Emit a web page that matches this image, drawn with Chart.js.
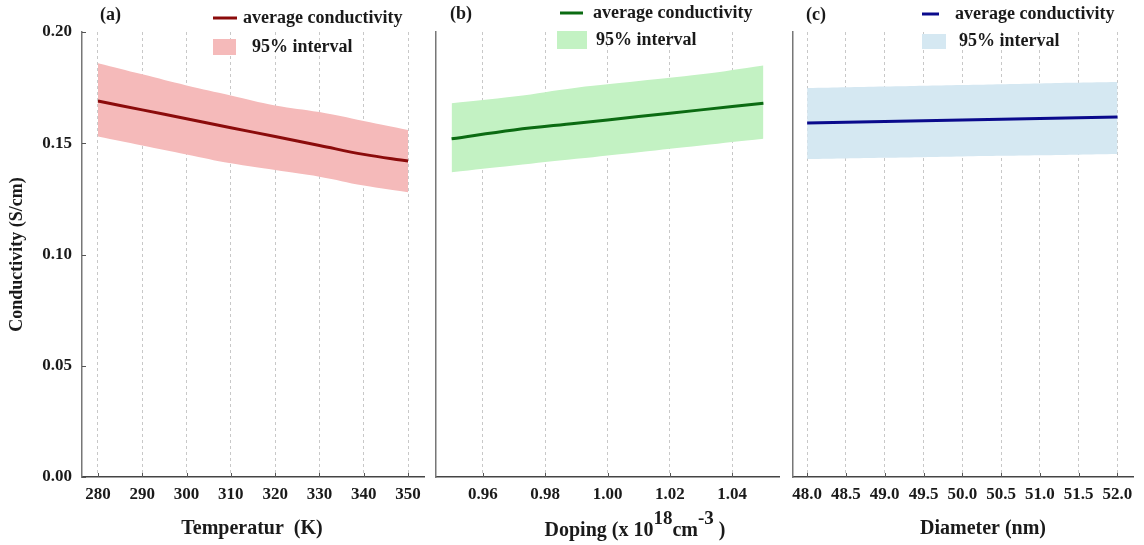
<!DOCTYPE html>
<html>
<head>
<meta charset="utf-8">
<script src="https://cdn.jsdelivr.net/npm/chart.js@4.4.0/dist/chart.umd.min.js"></script>
<style>
  body { margin: 0; background: #fff; }
  #wrap { position: relative; width: 1144px; height: 545px; }
  .panel { position: absolute; top: 0; height: 545px; }
</style>
</head>
<body>
<div id="wrap">
  <div class="panel" style="left:0;width:430px"><canvas id="chartA"></canvas></div>
  <div class="panel" style="left:430px;width:355px"><canvas id="chartB"></canvas></div>
  <div class="panel" style="left:785px;width:359px"><canvas id="chartC"></canvas></div>
</div>
<script>
// (a) temperature
const tempX = [280, 290, 300, 310, 320, 330, 340, 350];
const tempMean = [0.169, 0.165, 0.161, 0.157, 0.153, 0.149, 0.145, 0.142];
const tempUpper = [0.186, 0.181, 0.176, 0.1715, 0.167, 0.164, 0.160, 0.156];
const tempLower = [0.153, 0.149, 0.145, 0.141, 0.138, 0.135, 0.131, 0.128];
const tempTicks = [280, 290, 300, 310, 320, 330, 340, 350];

// (b) doping
const dopX = [0.95, 0.97, 0.99, 1.01, 1.03, 1.05];
const dopMean = [0.152, 0.156, 0.159, 0.162, 0.165, 0.168];
const dopUpper = [0.168, 0.171, 0.175, 0.178, 0.181, 0.185];
const dopLower = [0.137, 0.140, 0.143, 0.146, 0.149, 0.152];
const dopTicks = [0.96, 0.98, 1.00, 1.02, 1.04];

// (c) diameter
const diaX = [48, 49, 50, 51, 52];
const diaMean = [0.1591, 0.1598, 0.1605, 0.1611, 0.1618];
const diaUpper = [0.1748, 0.1755, 0.1762, 0.1769, 0.1775];
const diaLower = [0.1429, 0.1435, 0.1441, 0.1446, 0.1452];
const diaTicks = [48.0, 48.5, 49.0, 49.5, 50.0, 50.5, 51.0, 51.5, 52.0];

const yTicks = [0.00, 0.05, 0.10, 0.15, 0.20];

const SERIF = "'Liberation Serif', 'Times New Roman', serif";
Chart.defaults.font.family = SERIF;
Chart.defaults.font.weight = 'bold';
Chart.defaults.color = '#1a1a1a';

function pts(xs, ys) {
  return xs.map((x, i) => ({ x: x, y: ys[i] }));
}

// legend, panel label, x title and inward tick marks
const decor = {
  id: 'decor',
  afterDraw(chart, args, o) {
    const ctx = chart.ctx;
    const area = chart.chartArea;
    ctx.save();

    // small inward tick marks
    ctx.strokeStyle = '#555';
    ctx.lineWidth = 1;
    const xs = chart.scales.x;
    xs.ticks.forEach(t => {
      const px = Math.round(xs.getPixelForValue(t.value)) + 0.5;
      ctx.beginPath();
      ctx.moveTo(px, area.bottom);
      ctx.lineTo(px, area.bottom - 4);
      ctx.stroke();
    });
    if (o.yTickMarks) {
      const ys = chart.scales.y;
      ys.ticks.forEach(t => {
        const py = Math.round(ys.getPixelForValue(t.value)) + 0.5;
        ctx.beginPath();
        ctx.moveTo(area.left, py);
        ctx.lineTo(area.left + 4, py);
        ctx.stroke();
      });
    }

    // panel label
    ctx.fillStyle = '#1a1a1a';
    ctx.textBaseline = 'middle';
    ctx.textAlign = 'left';
    ctx.font = 'bold 18px ' + SERIF;
    ctx.fillText(o.label, o.labelX, o.labelY);

    // legend
    const L = o.legend;
    ctx.font = 'bold 18px ' + SERIF;
    ctx.strokeStyle = o.lineColor;
    ctx.lineWidth = 3;
    ctx.beginPath();
    ctx.moveTo(L.lineX0, L.lineY);
    ctx.lineTo(L.lineX1, L.lineY);
    ctx.stroke();
    ctx.fillText('average conductivity', L.lineTextX, L.lineY);
    ctx.fillStyle = o.fillColor;
    ctx.fillRect(L.boxX, L.boxY, L.boxW, L.boxH);
    ctx.fillStyle = '#1a1a1a';
    ctx.fillText('95% interval', L.boxTextX, L.boxY + L.boxH / 2);

    // x axis title with optional superscripts
    const runs = o.xTitle;
    const big = 'bold 20px ' + SERIF, small = 'bold 19px ' + SERIF;
    let w = 0;
    runs.forEach(r => { ctx.font = r.sup ? small : big; w += ctx.measureText(r.text).width; });
    let x = o.xTitleX - w / 2;
    ctx.textBaseline = 'alphabetic';
    runs.forEach(r => {
      ctx.font = r.sup ? small : big;
      ctx.fillText(r.text, x, r.sup ? o.xTitleY - 12 : o.xTitleY);
      x += ctx.measureText(r.text).width;
    });
    ctx.restore();
  }
};

function makeChart(id, cfg) {
  const showY = cfg.showY;
  return new Chart(document.getElementById(id), {
    type: 'line',
    data: {
      datasets: [
        {
          data: pts(cfg.x, cfg.mean),
          borderColor: cfg.lineColor,
          borderWidth: 3,
          pointRadius: 0,
          tension: 0.4,
          fill: false
        },
        {
          data: pts(cfg.x, cfg.upper),
          borderWidth: 0,
          borderColor: 'rgba(0,0,0,0)',
          backgroundColor: cfg.fillColor,
          pointRadius: 0,
          tension: 0.4,
          fill: '+1'
        },
        {
          data: pts(cfg.x, cfg.lower),
          borderWidth: 0,
          borderColor: 'rgba(0,0,0,0)',
          pointRadius: 0,
          tension: 0.4,
          fill: false
        }
      ]
    },
    options: {
      responsive: true,
      maintainAspectRatio: false,
      animation: false,
      layout: { padding: { top: 32, right: cfg.padRight, left: 0, bottom: 0 } },
      plugins: {
        legend: { display: false },
        tooltip: { enabled: false },
        decor: cfg.decor
      },
      scales: {
        x: {
          type: 'linear',
          min: cfg.xMin,
          max: cfg.xMax,
          afterBuildTicks: axis => { axis.ticks = cfg.ticks.map(v => ({ value: v })); },
          afterFit: axis => { axis.height = 68; },
          ticks: {
            padding: 7,
            font: { size: 17, weight: 'bold' },
            maxRotation: 0,
            autoSkip: false,
            callback: v => v.toFixed(cfg.decimals)
          },
          grid: { color: '#c8c8c8', lineWidth: 1, drawTicks: false },
          border: { display: true, color: '#444', width: 1.5, dash: [3, 3] }
        },
        y: {
          min: 0,
          max: 0.2,
          afterBuildTicks: axis => { axis.ticks = yTicks.map(v => ({ value: v })); },
          afterFit: axis => { axis.width = showY ? 82 : 6; },
          ticks: {
            display: showY,
            padding: 10,
            font: { size: 17, weight: 'bold' },
            callback: v => v.toFixed(2)
          },
          title: {
            display: showY,
            text: 'Conductivity (S/cm)',
            font: { size: 18, weight: 'bold' },
            padding: { top: 7, bottom: 7 }
          },
          grid: { display: false, drawTicks: false },
          border: { display: true, color: '#777', width: 1.5 }
        }
      }
    },
    plugins: [decor]
  });
}

makeChart('chartA', {
  x: tempX, mean: tempMean, upper: tempUpper, lower: tempLower, ticks: tempTicks,
  xMin: 276.4, xMax: 353.6, decimals: 0, showY: true, padRight: 6,
  lineColor: '#8b0b0b', fillColor: '#f5baba',
  decor: {
    label: '(a)', labelX: 100, labelY: 15, yTickMarks: true,
    lineColor: '#8b0b0b', fillColor: '#f5baba',
    legend: { lineX0: 213, lineX1: 237, lineY: 18, lineTextX: 243, boxX: 213, boxY: 39, boxW: 23, boxH: 16, boxTextX: 252 },
    xTitle: [{ text: 'Temperatur  (K)' }], xTitleX: 252, xTitleY: 534
  }
});

makeChart('chartB', {
  x: dopX, mean: dopMean, upper: dopUpper, lower: dopLower, ticks: dopTicks,
  xMin: 0.945, xMax: 1.055, decimals: 2, showY: false, padRight: 6,
  lineColor: '#0b6b12', fillColor: '#c3f2c3',
  decor: {
    label: '(b)', labelX: 20, labelY: 14, yTickMarks: false,
    lineColor: '#0b6b12', fillColor: '#c3f2c3',
    legend: { lineX0: 130, lineX1: 153, lineY: 13, lineTextX: 163, boxX: 127, boxY: 31, boxW: 30, boxH: 18, boxTextX: 166 },
    xTitle: [
      { text: 'Doping (x 10' }, { text: '18', sup: true },
      { text: 'cm' }, { text: '-3', sup: true }, { text: ' )' }
    ],
    xTitleX: 205, xTitleY: 536
  }
});

makeChart('chartC', {
  x: diaX, mean: diaMean, upper: diaUpper, lower: diaLower, ticks: diaTicks,
  xMin: 47.81, xMax: 52.2, decimals: 1, showY: false, padRight: 11,
  lineColor: '#0a0a8c', fillColor: '#d5e8f2',
  decor: {
    label: '(c)', labelX: 21, labelY: 15, yTickMarks: false,
    lineColor: '#0a0a8c', fillColor: '#d5e8f2',
    legend: { lineX0: 137, lineX1: 154, lineY: 14, lineTextX: 170, boxX: 137, boxY: 34, boxW: 24, boxH: 15, boxTextX: 174 },
    xTitle: [{ text: 'Diameter (nm)' }], xTitleX: 198, xTitleY: 534
  }
});
</script>
</body>
</html>
